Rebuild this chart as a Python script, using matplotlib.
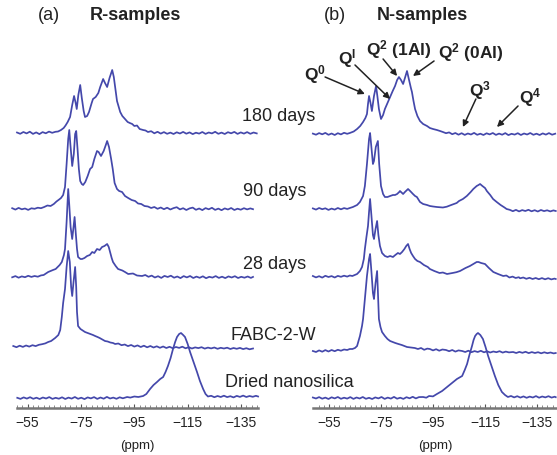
import matplotlib
matplotlib.use("Agg")
import matplotlib.pyplot as plt

plt.rcParams['font.family'] = ['Liberation Sans', 'DejaVu Sans']
plt.rcParams['mathtext.fontset'] = 'custom'
plt.rcParams['mathtext.rm'] = 'Liberation Sans'
plt.rcParams['mathtext.bf'] = 'Liberation Sans:bold'

# ---------------- data: (ppm, intensity) ----------------
R180 = [(-51.0,0.5),(-52.2,-0.8),(-53.4,1.0),(-54.6,-0.4),(-55.8,1.3),(-57.0,-0.9),(-58.2,0.6),(-59.4,-1.1),(-60.6,0.9),
        (-61.8,-0.3),(-63.0,1.4),(-64.2,0.2),(-65.4,1.2),(-66.4,1.5),(-67.5,3),(-68.5,5),(-69.2,7.5),(-70.0,11),(-70.9,16),
        (-71.7,28),(-72.4,37),(-73.0,30),(-73.4,24),(-74.0,38),(-74.7,48),(-75.3,35),(-76.0,22),(-76.5,16),(-77.3,17),
        (-78.0,21),(-79.0,30),(-79.5,34),(-80.5,36),(-81.5,40),(-82.2,46),(-83.3,54),(-84.0,50),(-84.8,46),(-85.7,55),
        (-86.7,63),(-87.3,56),(-87.8,46),(-88.5,32),(-89.7,21),(-90.5,17),(-91.5,14),(-92.5,11),(-93.3,10),(-94.2,9),
        (-95.0,7),(-96.0,7.5),(-97.0,4),(-98.3,3),(-99.2,2.5),(-100.1,1),(-101.3,1.8),(-102.5,-0.3),(-103.7,1.2),
        (-104.9,-0.6),(-106.1,0.9),(-107.3,-0.8),(-108.5,0.4),(-109.7,-1.0),(-110.9,0.7),(-112.1,-0.5),(-113.3,1.1),
        (-114.5,-0.7),(-115.7,0.6),(-116.9,-1.1),(-118.1,0.3),(-119.3,-0.6),(-120.5,1.0),(-121.7,-0.9),(-122.9,0.5),
        (-124.1,-0.4),(-125.3,1.2),(-126.5,-0.8),(-127.7,0.4),(-128.9,-1.0),(-130.1,0.8),(-131.3,-0.3),(-132.5,1.1),
        (-133.7,-0.9),(-134.9,0.6),(-136.1,-0.6),(-137.3,0.9),(-138.5,-0.8),(-139.7,0.5),(-140.9,-0.4)]

R90 = [(-49.2,0.8),(-50.4,-0.6),(-51.6,1.1),(-52.8,-0.3),(-54.0,0.5),(-55.2,-0.9),(-56.4,0.7),(-57.6,0.2),(-58.8,1.3),
       (-60.0,0.8),(-61.2,2.0),(-62.4,3.5),(-63.6,3.0),(-64.8,5.0),(-65.8,7.5),(-66.8,9.5),(-67.5,11),(-68.3,14),
       (-69.0,22),(-69.6,45),(-70.2,70),(-70.6,79),(-71.0,65),(-71.7,43),(-72.3,55),(-72.8,75),(-73.2,78),(-73.7,60),
       (-74.2,40),(-74.7,28),(-75.3,25),(-75.8,24),(-76.6,27),(-77.5,33),(-78.4,40),(-79.2,42),(-80.0,50),(-81.0,58),
       (-81.6,57),(-82.5,53),(-83.5,58),(-84.3,64),(-84.8,68),(-85.5,62),(-86.3,50),(-86.9,40),(-87.6,26),(-88.5,20),
       (-89.3,18),(-90.4,17),(-91.5,13),(-92.7,11),(-94.0,9),(-95.3,8),(-96.4,5.5),(-97.6,5),(-98.8,3),(-100.1,2.5),
       (-101.3,1),(-102.5,2.0),(-103.7,0.2),(-104.9,1.5),(-106.1,-0.2),(-107.3,1.3),(-108.5,-0.5),(-109.7,0.9),
       (-110.9,1.8),(-112.1,-0.4),(-113.3,0.8),(-114.5,-1.0),(-115.7,0.6),(-116.9,1.4),(-118.1,-0.8),(-119.3,0.5),
       (-120.5,-1.1),(-121.7,0.9),(-122.9,-0.3),(-124.1,1.2),(-125.3,-0.9),(-126.5,0.4),(-127.7,-1.2),(-128.9,0.6),
       (-130.1,-0.5),(-131.3,1.0),(-132.5,-1.0),(-133.7,0.3),(-134.9,-0.7),(-136.1,0.8),(-137.3,-0.4),(-138.5,0.6),
       (-139.5,-0.2)]

R28 = [(-49.2,-0.3),(-50.4,0.9),(-51.6,-0.7),(-52.8,0.6),(-54.0,-0.2),(-55.2,1.2),(-56.4,0.1),(-57.6,1.0),(-58.8,0.3),
       (-60.0,1.6),(-61.0,2),(-62.7,5),(-64.5,7),(-65.5,8),(-67.0,12),(-67.8,15),(-68.6,22),(-69.0,28),(-69.6,55),
       (-70.2,88),(-70.6,72),(-71.1,50),(-71.7,38),(-72.2,50),(-72.6,60),(-73.0,45),(-73.5,28),(-73.9,20),(-74.8,18),
       (-75.4,18),(-76.3,19),(-77.3,21),(-78.3,22),(-79.2,25),(-80.0,24),(-81.0,28),(-82.0,27),(-82.9,30),(-83.8,31),
       (-84.8,33),(-85.4,30),(-85.9,25),(-86.5,19),(-87.0,15),(-88.0,11),(-88.9,8),(-90.5,6.5),(-91.5,5),(-92.7,3),
       (-94.5,3.5),(-96.0,1.5),(-97.9,1),(-99.1,2.0),(-100.3,0.2),(-101.5,1.4),(-102.7,-0.5),(-103.9,0.8),(-105.1,-0.9),
       (-106.3,1.1),(-107.5,0.0),(-108.7,1.3),(-109.9,-0.7),(-111.1,0.5),(-112.3,-1.1),(-113.5,0.9),(-114.7,-0.4),
       (-115.9,1.0),(-117.1,-1.0),(-118.3,0.4),(-119.5,-0.8),(-120.7,0.7),(-121.9,-1.2),(-123.1,0.2),(-124.3,-0.6),
       (-125.5,0.9),(-126.7,-0.9),(-127.9,0.3),(-129.1,-1.1),(-130.3,0.6),(-131.5,-0.5),(-132.7,0.8),(-133.9,-1.0),
       (-135.1,0.2),(-136.3,-0.7),(-137.5,0.5),(-138.7,-0.9),(-139.5,0.1)]

RFABC = [(-49.6,1.0),(-50.8,-0.2),(-52.0,1.3),(-53.2,0.1),(-54.4,1.5),(-55.6,0.4),(-56.8,1.8),(-58.0,0.9),(-59.2,2.2),
         (-60.4,2.8),(-61.6,3.6),(-62.7,5),(-63.8,6),(-65.3,9),(-66.5,12),(-67.2,17),(-67.8,30),(-68.3,44),(-69.0,58),
         (-69.6,80),(-70.2,96),(-70.8,85),(-71.3,60),(-71.7,51),(-72.2,65),(-72.8,80),(-73.2,60),(-73.5,35),(-73.9,21),
         (-74.8,18),(-76.5,15),(-77.5,14),(-78.5,13),(-79.5,12),(-80.3,11),(-81.2,10),(-82.0,9),(-83.0,7.5),(-84.0,6),
         (-85.0,5.5),(-86.0,4.5),(-87.0,4),(-87.8,3),(-89.0,3.5),(-90.2,1.8),(-91.4,2.5),(-92.6,0.9),(-93.8,2.0),
         (-95.0,0.4),(-96.2,1.6),(-97.4,0.0),(-98.6,1.3),(-99.8,-0.3),(-101.0,1.0),(-102.2,-0.5),(-103.4,0.7),
         (-104.6,-0.8),(-105.8,0.5),(-107.0,-1.0),(-108.2,0.2),(-109.4,-1.2),(-110.6,0.0),(-111.8,-0.9),(-113.0,0.3),
         (-114.2,-1.3),(-115.4,-0.2),(-116.6,-1.5),(-117.8,-0.4),(-119.0,-1.1),(-120.2,-0.2),(-121.4,-1.6),(-122.6,-0.6),
         (-123.8,-1.4),(-125.0,-0.5),(-126.2,-1.8),(-127.4,-0.8),(-128.6,-1.5),(-129.8,-0.7),(-131.0,-2.0),(-132.2,-1.0),
         (-133.4,-1.8),(-134.6,-0.9),(-135.8,-2.1),(-137.0,-1.2),(-138.2,-2.3),(-139.5,-1.5)]

RDRIED = [(-51.1,0.2),(-52.3,-0.9),(-53.5,0.6),(-54.7,-0.6),(-55.9,0.8),(-57.1,-0.8),(-58.3,0.3),(-59.5,-1.0),(-60.7,0.5),
          (-61.9,-0.5),(-63.1,0.9),(-64.3,-0.9),(-65.5,0.2),(-66.7,-0.7),(-67.9,0.7),(-69.1,-1.0),(-70.3,0.4),(-71.5,-0.6),
          (-72.7,1.0),(-73.9,-0.8),(-75.1,0.3),(-76.3,-1.1),(-77.5,0.6),(-78.7,-0.4),(-79.9,0.9),(-81.1,-0.9),(-82.3,0.5),
          (-83.5,-0.7),(-84.7,1.1),(-85.9,-0.5),(-87.1,0.4),(-88.3,-0.8),(-89.5,0.7),(-90.7,-0.3),(-92.3,1),(-93.5,0.4),
          (-95.0,1.5),(-96.5,1.0),(-98.3,2),(-99.5,4),(-100.9,9),(-102.2,13),(-103.5,16),(-104.7,19),(-105.8,21),
          (-106.7,26),(-107.6,32),(-108.6,40),(-109.5,49),(-110.3,56),(-111.0,61),(-111.8,64),(-112.5,65),(-113.3,63),
          (-114.0,61),(-115.0,54),(-115.9,46),(-117.2,36),(-118.5,26),(-119.6,17),(-120.8,9),(-121.7,4),(-122.6,1.5),
          (-123.8,2.2),(-125.0,0.8),(-126.2,2.0),(-127.4,1.0),(-128.6,2.3),(-129.8,0.9),(-131.0,1.8),(-132.2,0.6),
          (-133.4,2.1),(-134.6,1.1),(-135.8,2.4),(-137.0,1.0),(-138.2,2.0),(-139.4,1.2),(-140.6,2.2),(-141.4,1.5)]

N180 = [(-48.8,0.4),(-50.0,-0.7),(-51.2,0.9),(-52.4,-0.3),(-53.6,1.1),(-54.8,-0.8),(-56.0,0.5),(-57.2,-1.0),(-58.4,0.8),
        (-59.6,-0.4),(-60.8,1.2),(-62.0,0.2),(-63.0,1),(-64.5,2.5),(-65.8,5),(-67.0,8),(-68.1,12),(-69.0,16),(-69.6,20),
        (-70.0,30),(-70.4,38),(-70.9,32),(-71.5,23),(-72.3,38),(-73.1,48),(-73.6,38),(-74.2,25),(-75.0,15),(-75.8,19),
        (-76.5,25),(-77.5,31),(-78.5,37),(-79.5,43),(-80.4,48),(-81.2,54),(-81.9,57),(-82.7,54),(-83.5,50),(-84.2,56),
        (-85.0,63),(-85.7,55),(-86.5,46),(-86.9,42),(-87.5,33),(-88.1,25),(-89.0,18),(-90.0,13),(-91.2,10),(-92.7,8),
        (-93.8,6),(-95.0,5),(-96.5,4),(-97.7,3),(-98.8,2),(-100.0,0.8),(-101.2,1.6),(-102.4,-0.2),(-103.6,1.0),
        (-104.8,-0.7),(-106.0,0.8),(-107.2,-0.9),(-108.4,0.5),(-109.6,-0.5),(-110.8,1.1),(-112.0,-0.8),(-113.2,0.3),
        (-114.4,-1.0),(-115.6,0.7),(-116.8,-0.4),(-118.0,1.0),(-119.2,-0.9),(-120.4,0.4),(-121.6,-0.7),(-122.8,0.9),
        (-124.0,-1.1),(-125.2,0.2),(-126.4,-0.6),(-127.6,0.8),(-128.8,-1.0),(-130.0,0.5),(-131.2,-0.5),(-132.4,1.0),
        (-133.6,-0.8),(-134.8,0.3),(-136.0,-1.0),(-137.2,0.6),(-138.4,-0.6),(-139.6,0.9),(-140.8,-0.7),(-142.0,0.3)]

N90 = [(-48.8,0.6),(-50.0,-0.6),(-51.2,1.0),(-52.4,-0.2),(-53.6,0.7),(-54.8,-0.9),(-56.0,0.4),(-57.2,-0.6),(-58.4,1.0),
       (-59.6,-0.3),(-60.8,0.9),(-62.0,0.1),(-63.0,1),(-64.2,2),(-65.8,4),(-66.9,7),(-68.1,13),(-68.8,23),(-69.6,45),
       (-70.4,70),(-70.8,76),(-71.3,62),(-71.9,45),(-72.3,48),(-73.0,62),(-73.8,68),(-74.3,45),(-75.0,23),(-75.8,15),
       (-76.5,12),(-77.5,12),(-78.5,13),(-79.6,14),(-80.4,14),(-81.2,15),(-82.0,17),(-82.3,18),(-83.1,16),(-83.5,15),
       (-84.2,17),(-85.0,19),(-85.4,20),(-86.2,18),(-87.3,15),(-88.1,13),(-88.8,12),(-90.0,7),(-91.2,5),(-92.7,4),
       (-93.8,3),(-95.0,2.5),(-96.5,2),(-98.8,1.5),(-100.3,2.3),(-102.0,4),(-104.1,6),(-105.0,8),(-106.5,10),
       (-108.0,13),(-109.5,17),(-110.5,20),(-111.8,23),(-112.5,24),(-113.1,25),(-114.0,23),(-115.0,21),(-115.7,18),
       (-117.0,14),(-118.1,10),(-119.5,7),(-121.0,4),(-122.5,1.5),(-123.3,0),(-124.5,-0.8),(-125.7,-2.2),(-126.9,-0.9),
       (-128.1,-2.4),(-129.3,-1.1),(-130.5,-2.0),(-131.7,-0.8),(-132.9,-2.3),(-134.1,-1.2),(-135.3,-2.5),(-136.5,-1.0),
       (-137.7,-2.1),(-138.9,-1.3),(-140.1,-2.4),(-141.3,-1.4),(-142.2,-2.0)]

N28 = [(-48.8,1.0),(-50.0,-0.4),(-51.2,0.8),(-52.4,-0.6),(-53.6,1.2),(-54.8,0.0),(-56.0,0.9),(-57.2,-0.5),(-58.4,1.1),
       (-59.6,0.2),(-60.8,1.3),(-62.0,0.4),(-63.0,1.5),(-64,1),(-65.8,3),(-66.9,6),(-67.7,10),(-68.4,18),(-68.8,28),
       (-69.4,40),(-70.0,51),(-70.4,65),(-70.8,78),(-71.3,62),(-71.9,42),(-72.3,38),(-72.9,48),(-73.5,56),(-74.0,42),
       (-74.6,31),(-75.4,24),(-76.5,21),(-77.5,20),(-78.5,21),(-79.6,20),(-80.5,22),(-81.5,24),(-82.3,23),(-83.1,25),
       (-84.0,28),(-84.7,31),(-85.4,33),(-86.0,28),(-86.6,24),(-87.3,21),(-88.1,18),(-89.0,16),(-90.0,15),(-91.5,12),
       (-93.0,10),(-93.8,8),(-95.5,6),(-97.5,4),(-98.8,4.5),(-100.4,3),(-102.5,4),(-104.0,4.8),(-105.4,6),(-107.5,9),
       (-109.2,11),(-110.5,13),(-111.8,15),(-112.5,15),(-113.5,14),(-115.0,13),(-116.5,9),(-118.2,5),(-120.0,3),
       (-122.0,1),(-123.2,1.5),(-124.4,-0.5),(-125.6,0.4),(-126.8,-1.0),(-128.0,-0.2),(-128.5,-1.3),(-129.7,-0.5),
       (-130.9,-1.8),(-132.1,-0.8),(-133.3,-2.0),(-134.5,-1.0),(-135.7,-2.2),(-136.9,-1.1),(-138.1,-2.3),(-139.3,-1.2),
       (-140.5,-2.4),(-141.7,-1.6),(-142.2,-2.0)]

NFABC = [(-48.8,0.0),(-50.0,-1.0),(-51.2,0.6),(-52.4,-0.7),(-53.6,0.9),(-54.8,-0.5),(-56.0,1.0),(-57.2,-0.2),(-58.4,1.2),
         (-59.6,0.3),(-60.8,1.5),(-62.0,1),(-63.0,2.0),(-64,2),(-65.0,3),(-65.8,5),(-66.9,15),(-67.7,25),(-68.1,32),
         (-68.8,52),(-69.6,75),(-70.4,92),(-70.8,97),(-71.3,80),(-71.9,58),(-72.3,52),(-72.9,68),(-73.5,80),(-73.8,60),
         (-74.2,32),(-74.8,24),(-75.4,19),(-76.5,15),(-77.5,12),(-78.5,10),(-79.5,9),(-80.5,8),(-81.7,7),(-83.0,6),
         (-84.0,5),(-85.0,4),(-86.5,3.5),(-88.0,3),(-89.2,2.0),(-90.4,3.0),(-91.6,1.2),(-92.8,2.4),(-93.8,2),(-95.0,0.6),
         (-96.2,1.8),(-97.4,0.3),(-98.6,1.5),(-100.0,1),(-101.2,-0.2),(-102.4,1.0),(-103.6,-0.6),(-104.8,0.6),
         (-106.2,0),(-107.4,-1.0),(-108.6,0.3),(-109.8,-1.2),(-111.0,-0.1),(-112.2,-1.0),(-113.4,0.2),(-114.6,-1.3),
         (-115.8,-0.3),(-117.0,-1.5),(-118.2,-0.5),(-119.4,-1.2),(-120.6,-0.2),(-121.8,-1.6),(-123.0,-0.6),(-124.2,-1.4),
         (-125.8,-1),(-127.0,-2.0),(-128.2,-0.9),(-129.4,-1.8),(-130.6,-0.8),(-131.8,-2.1),(-133.0,-1.1),(-134.2,-2.0),
         (-135.4,-1.2),(-136.6,-2.3),(-137.8,-1.3),(-139.0,-2.2),(-140.2,-1.5),(-141.4,-2.4),(-142.2,-2.0)]

NDRIED = [(-48.8,0.5),(-50.0,-0.5),(-51.2,0.9),(-52.4,-0.7),(-53.6,0.4),(-54.8,-1.0),(-56.0,0.7),(-57.2,-0.4),(-58.4,1.0),
          (-59.6,-0.8),(-60.8,0.3),(-62.0,-0.6),(-63.2,0.9),(-64.4,-0.9),(-65.6,0.5),(-66.8,-0.5),(-68.0,1.0),(-69.2,-0.8),
          (-70.4,0.2),(-71.6,-1.0),(-72.8,0.6),(-74.0,-0.4),(-75.2,1.0),(-76.4,-0.9),(-77.6,0.4),(-78.8,-0.6),(-80.0,1.1),
          (-81.2,-0.7),(-82.4,0.3),(-83.6,-0.9),(-84.8,0.8),(-86.0,-0.3),(-87.2,1.2),(-88.4,-0.4),(-89.6,0.9),
          (-91.2,1),(-92.4,0.3),(-93.5,2),(-95.0,1.6),(-96.5,4),(-98.5,7),(-100.4,11),(-102.3,15),(-104.2,19),
          (-106.2,22),(-107.2,28),(-108.1,34),(-109.0,43),(-110.0,52),(-110.6,58),(-111.2,62),(-111.8,64),(-112.3,65),
          (-113.2,63),(-114.2,59),(-115.2,51),(-116.2,42),(-117.5,32),(-118.8,22),(-120.1,13),(-121.5,6),(-122.7,3),
          (-123.8,1),(-125.0,2.0),(-126.2,0.6),(-127.4,1.8),(-128.6,0.4),(-129.8,1.6),(-131.0,0.2),(-132.2,1.4),
          (-133.4,0.5),(-134.6,1.9),(-135.8,0.3),(-137.0,1.5),(-138.2,0.6),(-139.4,1.8),(-140.6,0.4),(-141.8,1.3),
          (-142.2,0.8)]

XTICKS = [-55, -75, -95, -115, -135]
SAMPLE_LABELS = ["180 days", "90 days", "28 days", "FABC-2-W", "Dried nanosilica"]
Q_LABELS = [r"$\mathbf{Q^{0}}$", r"$\mathbf{Q^{I}}$", r"$\mathbf{Q^{2}}$ (1Al)", r"$\mathbf{Q^{2}}$ (0Al)",
            r"$\mathbf{Q^{3}}$", r"$\mathbf{Q^{4}}$"]

# ---------------- layout / style ----------------
W, H = 557, 456
LINE_COLOR = "#4448ab"
TEXT_COLOR = "#222222"
AXIS_BOTTOM_PX = 409

LEFT_SERIES = [(R180, 275), (R90, 199), (R28, 131), (RFABC, 61), (RDRIED, 10)]
RIGHT_SERIES = [(N180, 274), (N90, 199), (N28, 131), (NFABC, 57), (NDRIED, 10)]

fig = plt.figure(figsize=(W / 100, H / 100), dpi=100)


def make_ax(x0, x1, xlim):
    ax = fig.add_axes([x0 / W, (H - AXIS_BOTTOM_PX) / H, (x1 - x0) / W, AXIS_BOTTOM_PX / H])
    ax.set_xlim(*xlim)
    ax.set_ylim(0, AXIS_BOTTOM_PX)
    for s in ("top", "left", "right"):
        ax.spines[s].set_visible(False)
    ax.spines["bottom"].set_color("#777777")
    ax.spines["bottom"].set_linewidth(1.8)
    ax.set_yticks([])
    ax.set_xticks(XTICKS)
    ax.set_xticks(range(-51, -142, -2), minor=True)
    ax.tick_params(axis="x", which="major", direction="in", length=3, width=0.8, color="#555555",
                   labelsize=10, labelcolor=TEXT_COLOR, pad=5)
    ax.tick_params(axis="x", which="minor", direction="in", length=2, width=0.6, color="#777777")
    ax.patch.set_alpha(0)
    return ax


axL = make_ax(17, 258, (-51.07, -141.37))
axR = make_ax(313, 556, (-48.85, -142.3))

for ax, series in ((axL, LEFT_SERIES), (axR, RIGHT_SERIES)):
    for data, off in series:
        xs = [p[0] for p in data]
        ys = [p[1] + off for p in data]
        ax.plot(xs, ys, color=LINE_COLOR, lw=1.25, clip_on=False, solid_joinstyle="round")


def ftext(x, y, s, **kw):
    fig.text(x / W, 1 - y / H, s, color=TEXT_COLOR, va="center", **kw)


ftext(49, 15, "(a)", ha="center", fontsize=13)
ftext(90, 15, "R-samples", ha="left", fontsize=13, fontweight="bold")
ftext(335, 15, "(b)", ha="center", fontsize=13)
ftext(377, 15, "N-samples", ha="left", fontsize=13, fontweight="bold")

label_pos = [(242, 117), (243, 192), (243, 265), (230, 336), (225, 383)]
for s, (x, y) in zip(SAMPLE_LABELS, label_pos):
    ftext(x, y, s, ha="left", fontsize=13)

ftext(137, 446, "(ppm)", ha="center", fontsize=9.5)
ftext(435, 446, "(ppm)", ha="center", fontsize=9.5)

# Q annotations on right panel (text pos, arrow start, arrow tip) in ppm / y units
q_annots = [
    ((-49.6, 334), (-53.5, 331), (-68.8, 314)),
    ((-61.9, 350), (-65.0, 343), (-78.5, 309)),
    ((-81.9, 359), (-75.8, 349), (-81.2, 332)),
    ((-109.6, 356), (-95.4, 347), (-87.3, 332)),
    ((-113.1, 318), (-111.5, 309), (-106.5, 281)),
    ((-132.3, 311), (-127.7, 302), (-119.6, 281)),
]
for lab, (tp, a0, a1) in zip(Q_LABELS, q_annots):
    axR.text(tp[0], tp[1], lab, ha="center", va="center", fontsize=12.5, fontweight="bold",
             color=TEXT_COLOR, clip_on=False)
    axR.annotate("", xy=a1, xytext=a0, xycoords="data", textcoords="data",
                 arrowprops=dict(arrowstyle="-|>", color="#222222", lw=1.1, mutation_scale=9,
                                 shrinkA=0, shrinkB=0), annotation_clip=False)

fig.savefig("out.png", dpi=100)
